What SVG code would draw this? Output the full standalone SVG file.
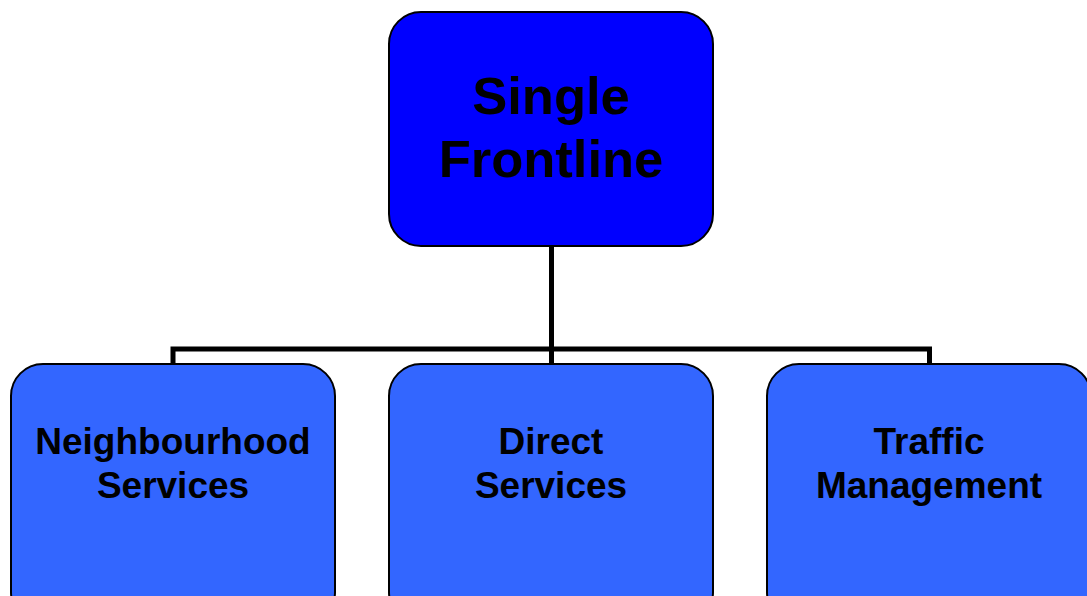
<svg xmlns="http://www.w3.org/2000/svg" width="1087" height="596" viewBox="0 0 1087 596">
  <style>
    .box { stroke: #000; stroke-width: 2; }
    .root { fill: #0000FF; }
    .child { fill: #3366FF; }
    .link { fill: none; stroke: #000; stroke-width: 5; }
    .label { font-family: "Liberation Sans", Arial, sans-serif; font-weight: bold; fill: #000; text-anchor: middle; }
    .big { font-size: 52.5px; }
    .small { font-size: 37px; }
  </style>
  <rect width="1087" height="596" fill="#fff"/>
  <g id="connectors">
    <path class="link" d="M551.5 246 V364"/>
    <path class="link" d="M173 364 V349 H929.5 V364"/>
  </g>
  <g id="single-frontline">
    <rect class="box root" x="389" y="12" width="324" height="234" rx="32"/>
    <text class="label big" x="551" y="114">Single</text>
    <text class="label big" x="551" y="177">Frontline</text>
  </g>
  <g id="neighbourhood-services">
    <rect class="box child" x="11" y="364" width="324" height="260" rx="32"/>
    <text class="label small" x="173" y="454">Neighbourhood</text>
    <text class="label small" x="173" y="498">Services</text>
  </g>
  <g id="direct-services">
    <rect class="box child" x="389" y="364" width="324" height="260" rx="32"/>
    <text class="label small" x="551" y="454">Direct</text>
    <text class="label small" x="551" y="498">Services</text>
  </g>
  <g id="traffic-management">
    <rect class="box child" x="767" y="364" width="324" height="260" rx="32"/>
    <text class="label small" x="929" y="454">Traffic</text>
    <text class="label small" x="929" y="498">Management</text>
  </g>
</svg>
